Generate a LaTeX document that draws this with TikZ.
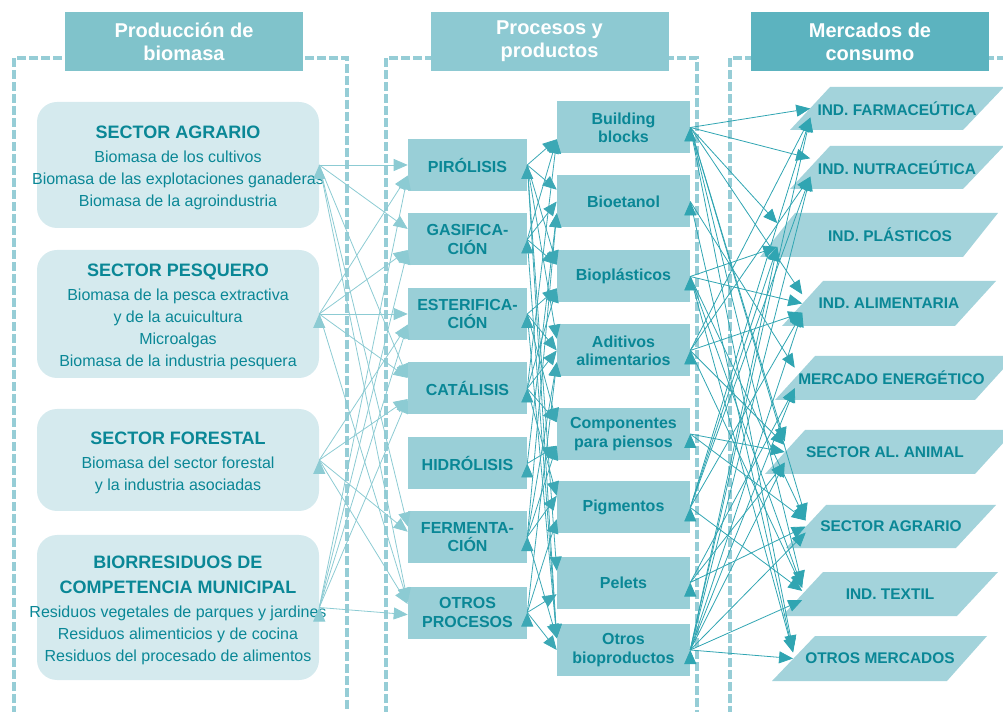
\documentclass[tikz,border=0pt]{standalone}
\usepackage{fontspec}
\setmainfont{Liberation Sans}
\usetikzlibrary{arrows.meta}
\definecolor{framecol}{RGB}{150,205,214}
\definecolor{headA}{RGB}{128,195,203}
\definecolor{headB}{RGB}{141,201,210}
\definecolor{headC}{RGB}{92,179,191}
\definecolor{srcfill}{RGB}{213,234,238}
\definecolor{boxfill}{RGB}{153,207,215}
\definecolor{mktfill}{RGB}{163,211,219}
\definecolor{darkteal}{RGB}{10,135,150}
\definecolor{lightline}{RGB}{140,203,211}
\definecolor{procline}{RGB}{60,168,181}
\definecolor{mktline}{RGB}{48,165,178}
\newcommand{\srchead}{\fontsize{13.5}{16.5}\selectfont\bfseries}

\begin{document}
\begin{tikzpicture}[x=0.75pt,y=-0.75pt,
  frame/.style={draw=framecol,line width=3pt,dash pattern=on 6.5pt off 2.5pt},
  header/.style={rectangle,minimum width=178.5pt,minimum height=44.25pt,inner sep=0pt,
    text=white,font=\fontsize{15}{17.25}\selectfont\bfseries,align=center},
  srcbox/.style={rectangle,rounded corners=15pt,fill=srcfill,minimum width=211.5pt,inner sep=0pt},
  srctext/.style={text=darkteal,font=\fontsize{12}{16.5}\selectfont,align=center,inner sep=0pt,yshift=-2.25pt},
  procbox/.style={rectangle,fill=boxfill,minimum width=89.25pt,minimum height=39pt,inner sep=0pt,
    text=darkteal,font=\fontsize{12}{13.75}\selectfont\bfseries,align=center},
  prodbox/.style={procbox,minimum width=99.75pt},
  market/.style={rectangle,minimum height=24pt,inner sep=0pt,
    text=darkteal,font=\fontsize{11.6}{13}\selectfont\bfseries},
  srcarrow/.style={color=lightline,line width=0.6pt,-{Triangle[length=10.5pt,width=9pt]}},
  procarrow/.style={color=procline,line width=0.6pt,-{Triangle[length=10.5pt,width=9pt]}},
  mktarrow/.style={color=mktline,line width=0.6pt,-{Triangle[length=10.5pt,width=9pt]}}]

  \useasboundingbox (0,0) rectangle (1003,712);
  \clip (0,0) rectangle (1003,712);

  % Column frames
  \draw[frame] (14,715) -- (14,58) -- (347,58) -- (347,715);
  \draw[frame] (386,715) -- (386,58) -- (697,58) -- (697,715);
  \draw[frame] (730,715) -- (730,58) -- (1010,58);

  % Column headers
  \node[header,fill=headA] (H1) at (184,41.5) {Producción de\\biomasa};
  \node[header,fill=headB] (H2) at (549.5,41.5) {Procesos y\\productos};
  \node[header,fill=headC] (H3) at (870,41.5) {Mercados de\\consumo};

  % Biomass sources
  \node[srcbox,minimum height=94.5pt] (S1) at (178,165) {};
  \node[srctext] (S1t) at (S1) {{\srchead SECTOR AGRARIO}\\[1.5pt]
    Biomasa de los cultivos\\
    Biomasa de las explotaciones ganaderas\\
    Biomasa de la agroindustria};

  \node[srcbox,minimum height=96pt] (S2) at (178,314) {};
  \node[srctext] (S2t) at (S2) {{\srchead SECTOR PESQUERO}\\[1.5pt]
    Biomasa de la pesca extractiva\\
    y de la acuicultura\\
    Microalgas\\
    Biomasa de la industria pesquera};

  \node[srcbox,minimum height=76.5pt] (S3) at (178,460) {};
  \node[srctext] (S3t) at (S3) {{\srchead SECTOR FORESTAL}\\[1.5pt]
    Biomasa del sector forestal\\
    y la industria asociadas};

  \node[srcbox,minimum height=108.75pt] (S4) at (178,607.5) {};
  \node[srctext] (S4t) at (S4) {{\srchead BIORRESIDUOS DE}\\[2.25pt]
    {\srchead COMPETENCIA MUNICIPAL}\\[1.5pt]
    Residuos vegetales de parques y jardines\\
    Residuos alimenticios y de cocina\\
    Residuos del procesado de alimentos};

  % Processes
  \node[procbox] (P1) at (467.5,165) {PIRÓLISIS};
  \node[procbox] (P2) at (467.5,239.5) {GASIFICA-\\CIÓN};
  \node[procbox] (P3) at (467.5,314) {ESTERIFICA-\\CIÓN};
  \node[procbox] (P4) at (467.5,388.5) {CATÁLISIS};
  \node[procbox] (P5) at (467.5,463.5) {HIDRÓLISIS};
  \node[procbox] (P6) at (467.5,537) {FERMENTA-\\CIÓN};
  \node[procbox] (P7) at (467.5,612.5) {OTROS\\PROCESOS};

  % Products
  \node[prodbox] (R1) at (623.5,127.5) {Building\\blocks};
  \node[prodbox] (R2) at (623.5,201.5) {Bioetanol};
  \node[prodbox] (R3) at (623.5,276.5) {Bioplásticos};
  \node[prodbox] (R4) at (623.5,350.5) {Aditivos\\alimentarios};
  \node[prodbox] (R5) at (623.5,434) {Componentes\\para piensos};
  \node[prodbox] (R6) at (623.5,507.5) {Pigmentos};
  \node[prodbox] (R7) at (623.5,582.5) {Pelets};
  \node[prodbox] (R8) at (623.5,650) {Otros\\bioproductos};

  % Market shapes
  \fill[mktfill] (790,130) -- (830,87) -- (1004,87) -- (963,130) -- cycle;
  \fill[mktfill] (790,189) -- (830,146) -- (1004,146) -- (963,189) -- cycle;
  \fill[mktfill] (760,257) -- (795,213) -- (998,213) -- (963,257) -- cycle;
  \fill[mktfill] (782,326) -- (823,281) -- (996,281) -- (955,326) -- cycle;
  \fill[mktfill] (775,400) -- (815,356) -- (1015,356) -- (975,400) -- cycle;
  \fill[mktfill] (765,474) -- (805,430) -- (1015,430) -- (975,474) -- cycle;
  \fill[mktfill] (786,548) -- (826,505) -- (996,505) -- (956,548) -- cycle;
  \fill[mktfill] (782,616) -- (823,572) -- (998,572) -- (957,616) -- cycle;
  \fill[mktfill] (772,681) -- (815,636) -- (987,636) -- (947,681) -- cycle;

  % Markets
  \node[market,minimum width=129.75pt] (M1) at (897,108.5) {IND. FARMACEÚTICA};
  \node[market,minimum width=129.75pt] (M2) at (897,167.5) {IND. NUTRACEÚTICA};
  \node[market,minimum width=168.75pt] (M3) at (890,235) {IND. PLÁSTICOS};
  \node[market,minimum width=129.75pt] (M4) at (889,303.5) {IND. ALIMENTARIA};
  \node[market,minimum width=144.75pt] (M5) at (891.5,378) {MERCADO ENERGÉTICO};
  \node[market,minimum width=150pt] (M6) at (885,452) {SECTOR AL. ANIMAL};
  \node[market,minimum width=127.5pt] (M7) at (891,526.5) {SECTOR AGRARIO};
  \node[market,minimum width=131.25pt] (M8) at (890,594) {IND. TEXTIL};
  \node[market,minimum width=130pt] (M9) at (880,658.5) {OTROS MERCADOS};

  % Sources to processes
  \draw[srcarrow] (S1.east) edge (P1.180) edge (P2.170) edge (P4.170) edge (P6.170) edge (P7.170);
  \draw[srcarrow] (S2.east) edge (P1.190) edge (P2.190) edge (P3.180) edge (P4.170) edge (P7.170);
  \draw[srcarrow] (S3.east) edge (P3.190) edge (P4.190) edge (P6.175) edge (P7.172);
  \draw[srcarrow] (S4.east) edge (P1.190) edge (P2.190) edge (P3.190) edge (P4.190) edge (P7.182);

  % Processes to products
  \draw[procarrow] (P1.east) edge (R1.190) edge (R2.170) edge (R3.170) edge (R4.170) edge (R7.170) edge (R8.170);
  \draw[procarrow] (P2.east) edge (R1.190) edge (R2.180) edge (R3.170) edge (R8.170);
  \draw[procarrow] (P3.east) edge (R3.190) edge (R4.180) edge (R5.170) edge (R8.170);
  \draw[procarrow] (P4.east) edge (R1.190) edge (R3.190) edge (R4.180) edge (R5.170) edge (R6.170);
  \draw[procarrow] (P5.east) edge (R2.190) edge (R5.190);
  \draw[procarrow] (P6.east) edge (R2.190) edge (R4.190) edge (R5.190) edge (R6.170) edge (R8.170);
  \draw[procarrow] (P7.east) edge (R4.190) edge (R6.190) edge (R7.190) edge (R8.180);

  % Products to markets
  \draw[mktarrow] (R1.east) edge (M1.180) edge (M2.174) edge (M3.174) edge (M4.174) edge (M6.174) edge (M7.174) edge (M8.174) edge (M9.174);
  \draw[mktarrow] (R2.east) edge (M5.174) edge (M9.176);
  \draw[mktarrow] (R3.east) edge (M3.186) edge (M4.180) edge (M7.176) edge (M8.176) edge (M9.176);
  \draw[mktarrow] (R4.east) edge (M1.186) edge (M2.186) edge (M4.186) edge (M6.176) edge (M8.176);
  \draw[mktarrow] (R5.east) edge (M6.180) edge (M7.176);
  \draw[mktarrow] (R6.east) edge (M1.186) edge (M2.186) edge (M3.186) edge (M4.186) edge (M8.178);
  \draw[mktarrow] (R7.east) edge (M5.186) edge (M6.186) edge (M7.180);
  \draw[mktarrow] (R8.east) edge (M1.186) edge (M2.186) edge (M3.186) edge (M4.186) edge (M5.186) edge (M6.186) edge (M7.184) edge (M8.184) edge (M9.180);

\end{tikzpicture}
\end{document}
